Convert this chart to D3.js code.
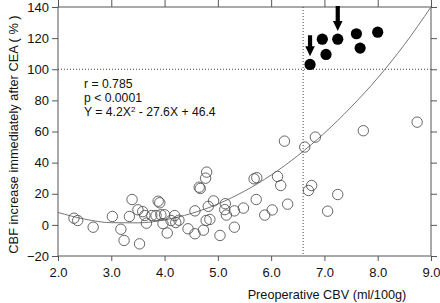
<!DOCTYPE html>
<html><head><meta charset="utf-8">
<script src="https://cdn.jsdelivr.net/npm/d3@7"></script>
<style>
html,body{margin:0;padding:0;background:#fff;}
svg{display:block;font-family:"Liberation Sans",Arial,sans-serif;}
</style></head>
<body>
<svg id="chart" width="440" height="303"></svg>
<script>
// ---- data ----
const xTicks = [2.0, 3.0, 4.0, 5.0, 6.0, 7.0, 8.0, 9.0];
const yTicks = [140, 120, 100, 80, 60, 40, 20, 0, -20];
const openX = [2.30,2.37,2.66,3.02,3.18,3.24,3.39,3.34,3.53,3.50,3.59,3.63,3.66,3.88,3.91,3.76,3.84,3.93,4.00,3.97,4.05,4.12,4.19,4.21,4.27,4.44,4.57,4.57,4.73,4.78,4.85,4.82,4.92,4.65,4.67,4.77,4.79,5.04,5.14,5.13,5.16,5.31,5.31,5.48,5.68,5.73,5.72,5.88,6.02,6.12,6.18,6.31,6.25,6.63,6.83,6.70,6.76,7.06,7.25,7.73,8.74];
const openY = [4.3,2.8,-1.5,5.4,-2.8,-10,16.3,5.4,-12.2,9.7,8.5,6.0,1.1,15.2,14.2,6.0,6.0,6.5,6.5,0.8,-5.2,2.8,6.0,1.5,3.0,-2.5,-5.7,9.0,-3.4,2.8,3.5,11.9,15.4,24.2,23.4,30,33.9,-6.8,13.6,9.8,6.3,9.0,-1.5,10.8,29.6,30.3,16.3,6.3,9.6,31.1,25.3,13.3,53.8,50,56.4,22.1,25.3,8.8,19.5,60.5,66];
const filledX = [6.73,6.96,7.03,7.25,7.60,7.67,8.00];
const filledY = [103.1,119.3,109.5,119.3,122.8,113.6,123.8];
const arrowedIdx = [0, 3];
// fitted curve Y = 4.2X^2 - 27.6X + 46.4
const curveX = [2.0,2.5,3.0,3.5,4.0,4.5,5.0,5.5,6.0,6.5,7.0,7.5,8.0,8.5,9.0];
const curveY = [8.0,3.7,1.4,1.3,3.2,7.3,13.4,21.7,32.0,44.5,59.0,75.7,94.4,115.8,140.0];
const cutX = 6.6, cutY = 100;
const statLines = ["r = 0.785", "p < 0.0001"];
const xLabel = "Preoperative CBV (ml/100g)";
const yLabel = "CBF increase immediately after CEA ( % )";

// ---- layout ----
const L = 58, R = 431, T = 7, B = 256;
const svg = d3.select("#chart");
const x = d3.scaleLinear().domain([2, 9]).range([L, R]);
const y = d3.scaleLinear().domain([-20, 140]).range([B, T]);
const axisColor = "#555";
const FS = 13;

// frame
svg.append("rect").attr("x", L).attr("y", T).attr("width", R - L).attr("height", B - T)
  .attr("fill", "none").attr("stroke", axisColor).attr("stroke-width", 1);

function styleAxis(g) {
  g.select(".domain").remove();
  g.selectAll(".tick line").attr("stroke", axisColor);
  g.selectAll(".tick text").attr("fill", "#111").attr("font-size", FS)
    .attr("font-family", "'Liberation Sans',Arial,sans-serif");
}
svg.append("g").attr("transform", `translate(0,${B})`)
  .call(d3.axisBottom(x).tickValues(xTicks).tickFormat(d3.format(".1f")).tickSize(5).tickPadding(7))
  .call(styleAxis);
svg.append("g").attr("transform", `translate(0,${T})`)
  .call(d3.axisTop(x).tickValues(xTicks).tickFormat("").tickSize(7))
  .call(styleAxis);
svg.append("g").attr("transform", `translate(${L},0)`)
  .call(d3.axisLeft(y).tickValues(yTicks).tickSize(6).tickPadding(3))
  .call(styleAxis);
svg.append("g").attr("transform", `translate(${R},0)`)
  .call(d3.axisRight(y).tickValues(yTicks).tickFormat("").tickSize(6))
  .call(styleAxis);

// dotted reference lines
svg.append("line").attr("x1", x(cutX)).attr("x2", x(cutX)).attr("y1", T).attr("y2", B)
  .attr("stroke", "#444").attr("stroke-dasharray", "1,2");
svg.append("line").attr("x1", L).attr("x2", R).attr("y1", y(cutY)).attr("y2", y(cutY))
  .attr("stroke", "#444").attr("stroke-dasharray", "1,2");

// curve
const curvePts = curveX.map((v, i) => [v, curveY[i]]);
svg.append("path").datum(curvePts)
  .attr("d", d3.line().x(d => x(d[0])).y(d => y(d[1])).curve(d3.curveMonotoneX))
  .attr("fill", "none").attr("stroke", "#777").attr("stroke-width", 1);

// open circles
const openPts = openX.map((v, i) => [v, openY[i]]);
svg.append("g").selectAll("circle").data(openPts).join("circle")
  .attr("cx", d => x(d[0])).attr("cy", d => y(d[1])).attr("r", 5.2)
  .attr("fill", "none").attr("stroke", "#555").attr("stroke-width", 0.9);

// filled circles
const filledPts = filledX.map((v, i) => [v, filledY[i]]);
svg.append("g").selectAll("circle").data(filledPts).join("circle")
  .attr("cx", d => x(d[0])).attr("cy", d => y(d[1])).attr("r", 5.6)
  .attr("fill", "#000");

// arrows
const arrowLen = [21, 25];
arrowedIdx.forEach((idx, k) => {
  const cx = x(filledX[idx]);
  const tip = y(filledY[idx]) - 5.6 - 2.5;
  const top = tip - arrowLen[k];
  const hh = 10, hw = 4.8, sw = 2.1;
  const p = `M${cx - sw},${top} L${cx + sw},${top} L${cx + sw},${tip - hh} L${cx + hw},${tip - hh} L${cx},${tip} L${cx - hw},${tip - hh} L${cx - sw},${tip - hh} Z`;
  svg.append("path").attr("d", p).attr("fill", "#000");
});

// stats text
const tx = 84, ty = 88.3, lh = 13.8, sfs = 12.2;
statLines.forEach((s, i) => {
  svg.append("text").attr("x", tx).attr("y", ty + i * lh).attr("font-size", sfs).attr("fill", "#111").text(s);
});
const eq = svg.append("text").attr("x", tx).attr("y", ty + 2 * lh).attr("font-size", sfs).attr("fill", "#111");
eq.append("tspan").text("Y = 4.2X");
eq.append("tspan").attr("font-size", 8).attr("dy", -3.5).text("2");
eq.append("tspan").attr("dy", 3.5).text("  - 27.6X + 46.4");

// axis labels
svg.append("text").attr("x", 327).attr("y", 299).attr("text-anchor", "middle")
  .attr("font-size", 12.7).attr("fill", "#111").text(xLabel);
svg.append("text").attr("transform", `translate(17.5,${(T + B) / 2 + 3}) rotate(-90)`)
  .attr("text-anchor", "middle").attr("font-size", 12.8).attr("fill", "#111").text(yLabel);
</script>
</body></html>
